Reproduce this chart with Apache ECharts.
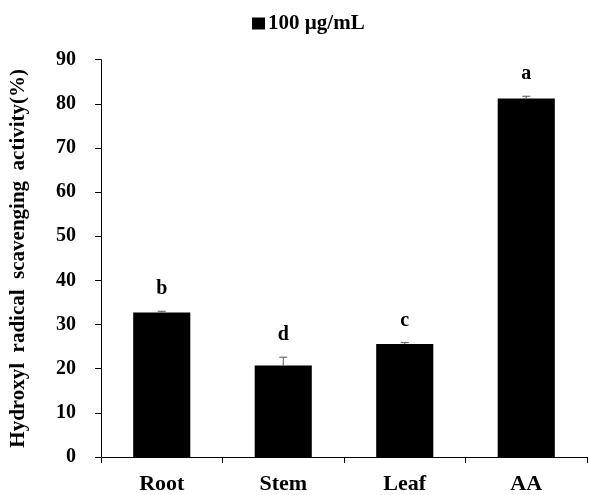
<!DOCTYPE html>
<html><head><meta charset="utf-8">
<script src="https://cdn.jsdelivr.net/npm/echarts@6/dist/echarts.min.js"></script>
<style>html,body{margin:0;padding:0;background:#fff}#c{width:589px;height:495px}</style>
</head><body><div id="c"></div>
<script>
var categories = ['Root', 'Stem', 'Leaf', 'AA'];
var values = [32.7, 20.7, 25.6, 81.2];
var errors = [0.3, 1.9, 0.3, 0.5];
var letters = ['b', 'd', 'c', 'a'];
var seriesName = '100 µg/mL';
var yTicks = [0, 10, 20, 30, 40, 50, 60, 70, 80, 90];
var yAxisTitle = 'Hydroxyl  radical  scavenging  activity(%)';

var FONT = '"Liberation Serif", "Times New Roman", serif';
var chart = echarts.init(document.getElementById('c'));
var errData = values.map(function (v, i) { return [i, v, errors[i], letters[i]]; });

chart.setOption({
  animation: false,
  legend: {
    top: 8, left: 247,
    itemWidth: 13, itemHeight: 12, itemGap: 4,
    icon: 'rect',
    data: [seriesName],
    textStyle: { fontFamily: FONT, fontWeight: 'bold', fontSize: 21, color: '#000', padding: [0, 0, 0, -2] }
  },
  grid: { left: 97, right: 2, top: 59.6, bottom: 36.7 },
  xAxis: {
    type: 'category',
    data: categories,
    axisLine: { lineStyle: { color: '#000', width: 1 } },
    axisTick: { show: true, length: 6, lineStyle: { color: '#000' } },
    axisLabel: { fontFamily: FONT, fontWeight: 'bold', fontSize: 22, color: '#000', margin: 16 }
  },
  yAxis: {
    type: 'value', min: 0, max: 90, interval: 10,
    name: yAxisTitle,
    nameLocation: 'middle', nameGap: 72,
    nameTextStyle: { fontFamily: FONT, fontWeight: 'bold', fontSize: 21, color: '#000' },
    axisLine: { show: true, lineStyle: { color: '#000', width: 1 } },
    axisTick: { show: true, length: 6, inside: false, lineStyle: { color: '#000' } },
    splitLine: { show: false },
    axisLabel: { fontFamily: FONT, fontWeight: 'bold', fontSize: 20, color: '#000', margin: 25,
      formatter: function (v) { return yTicks.indexOf(v) >= 0 ? String(v) : ''; } }
  },
  series: [
    {
      name: seriesName, type: 'bar', data: values, barWidth: '47%',
      itemStyle: { color: '#000' }
    },
    {
      type: 'custom', data: errData, z: 5,
      renderItem: function (params, api) {
        var x = api.value(0), v = api.value(1), e = api.value(2);
        var top = api.coord([x, v + e]);
        var base = api.coord([x, v]);
        var cap = 4;
        return {
          type: 'group',
          children: [
            { type: 'line', shape: { x1: top[0], y1: top[1], x2: base[0], y2: base[1] },
              style: { stroke: '#555', lineWidth: 1 } },
            { type: 'line', shape: { x1: top[0] - cap, y1: top[1], x2: top[0] + cap, y2: top[1] },
              style: { stroke: '#555', lineWidth: 1 } },
            { type: 'text', x: top[0], y: top[1] - 22,
              style: { text: api.value(3), fill: '#000', font: 'bold 20px ' + FONT,
                align: 'center', verticalAlign: 'middle' } }
          ]
        };
      }
    }
  ]
});
</script></body></html>
